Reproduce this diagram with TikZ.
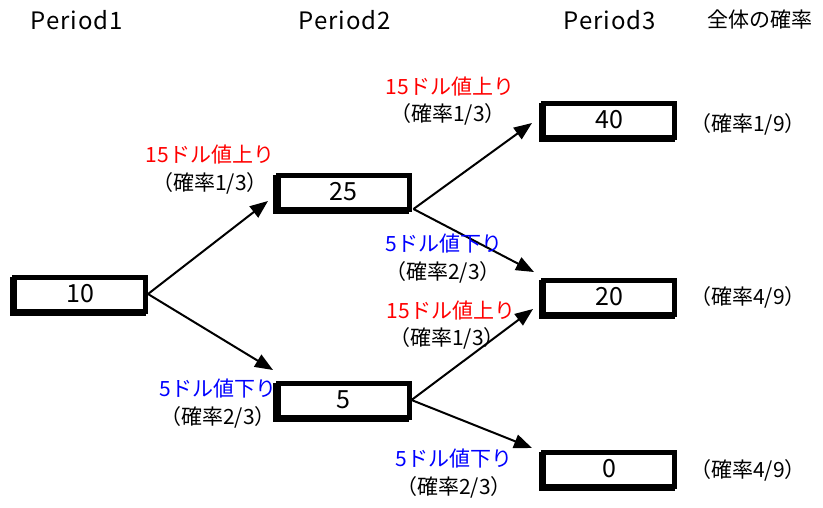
\documentclass[tikz,border=0pt]{standalone}
\usepackage{fontspec}
\setmainfont{Noto Sans CJK JP}
\newfontfamily\headfont[LetterSpace=4]{Noto Sans CJK JP}
\usetikzlibrary{arrows.meta,shadows}
\begin{document}
\begin{tikzpicture}[x=1pt,y=-1pt,
  every node/.style={inner sep=0pt, font=\fontsize{21}{24}\selectfont},
  valbox/.style={draw=black, fill=white, line width=5pt,
    minimum width=131pt, minimum height=34pt,
    font=\fontsize{25}{28}\selectfont,
    general shadow={shadow xshift=-2.5pt, shadow yshift=-2.5pt,
      draw=black, fill=black, line width=5pt}},
  uplbl/.style={text=red},
  downlbl/.style={text=blue},
  problbl/.style={text=black},
  head/.style={font=\headfont\fontsize{24}{28}\selectfont},
  branch/.style={draw=black, line width=2pt,
    -{Triangle[length=18pt, width=14pt]}}
]
\useasboundingbox (0,0) rectangle (823,507);

% column headings
\node[head] (h1) at (77,20) {Period1};
\node[head] (h2) at (345,20) {Period2};
\node[head] (h3) at (610,20) {Period3};
\node (h4) at (760,20) {全体の確率};

% price boxes
\node[valbox] (b10) at (80,294) {10};
\node[valbox] (b25) at (343.5,192) {25};
\node[valbox] (b5)  at (343.5,400) {5};
\node[valbox] (b40) at (609,120) {40};
\node[valbox] (b20) at (609,297) {20};
\node[valbox] (b0)  at (609,469) {0};

% arrow tips
\coordinate (t25) at (268,201);
\coordinate (t5)  at (273,370);
\coordinate (t40) at (532,123);
\coordinate (t20a) at (534,272);
\coordinate (t20b) at (533,309);
\coordinate (t0)  at (532,448);

% branches
\draw[branch] (b10.east) -- (t25);
\draw[branch] (b10.east) -- (t5);
\draw[branch] ([xshift=2pt,yshift=-17pt]b25.east) -- (t40);
\draw[branch] ([xshift=2pt,yshift=-17pt]b25.east) -- (t20a);
\draw[branch] (b5.east) -- (t20b);
\draw[branch] (b5.east) -- (t0);

% branch labels
\node[uplbl] (u1) at (210,155) {15ドル値上り};
\node[problbl] (p1) at (210,183) {（確率1/3）};
\node[uplbl] (u2) at (450,87) {15ドル値上り};
\node[problbl] (p2) at (448,114) {（確率1/3）};
\node[downlbl] (d1) at (444,244) {5ドル値下り};
\node[problbl] (p3) at (443,272) {（確率2/3）};
\node[uplbl] (u3) at (451,311) {15ドル値上り};
\node[problbl] (p4) at (447,338) {（確率1/3）};
\node[downlbl] (d2) at (218,389) {5ドル値下り};
\node[problbl] (p5) at (218,417) {（確率2/3）};
\node[downlbl] (d3) at (454,459) {5ドル値下り};
\node[problbl] (p6) at (454,487) {（確率2/3）};

% overall probabilities
\node (q1) at (748,124) {（確率1/9）};
\node (q2) at (748,297) {（確率4/9）};
\node (q3) at (748,470) {（確率4/9）};
\end{tikzpicture}
\end{document}
